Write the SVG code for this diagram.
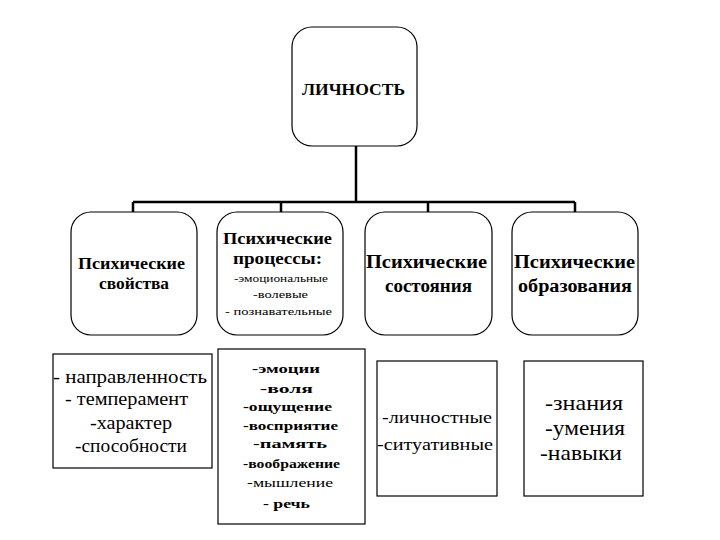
<svg xmlns="http://www.w3.org/2000/svg" width="720" height="540" viewBox="0 0 720 540" font-family="'Liberation Serif', 'DejaVu Serif', serif">
<style>
.rb{fill:#fff;stroke:#000;stroke-width:1.2}
.sb{fill:#fff;stroke:#000;stroke-width:1.2}
.conn{fill:none;stroke:#000;stroke-width:2.5}
text{font-family:'Liberation Serif','DejaVu Serif',serif;fill:#000;text-anchor:middle}
.h{font-weight:bold}
</style>
<rect width="720" height="540" fill="#fff"/>
<g id="connectors">
<path class="conn" d="M356,146 V202 M133,202 H575 M133,202 V212 M281,202 V212 M428,202 V212 M575,202 V212"/>
</g>
<g id="lichnost">
<rect class="rb" x="292" y="27" width="125" height="119" rx="20"/>
<text class="h" x="353.5" y="95" font-size="16" textLength="103" lengthAdjust="spacingAndGlyphs">ЛИЧНОСТЬ</text>
</g>
<g id="svoistva">
<rect class="rb" x="71" y="212" width="126" height="123" rx="20"/>
<text class="h" x="131.5" y="269" font-size="16" textLength="107" lengthAdjust="spacingAndGlyphs">Психические</text>
<text class="h" x="134" y="289" font-size="16" textLength="70" lengthAdjust="spacingAndGlyphs">свойства</text>
</g>
<g id="processy">
<rect class="rb" x="217" y="212" width="126" height="123" rx="20"/>
<text class="h" x="277.5" y="244" font-size="16" textLength="109" lengthAdjust="spacingAndGlyphs">Психические</text>
<text class="h" x="277.5" y="264" font-size="16" textLength="89" lengthAdjust="spacingAndGlyphs">процессы:</text>
<text x="281" y="282" font-size="11" textLength="94" lengthAdjust="spacingAndGlyphs">-эмоциональные</text>
<text x="280.5" y="298" font-size="11" textLength="55" lengthAdjust="spacingAndGlyphs">-волевые</text>
<text x="278.5" y="315" font-size="11" textLength="107" lengthAdjust="spacingAndGlyphs">- познавательные</text>
</g>
<g id="sostoyaniya">
<rect class="rb" x="365" y="212" width="127" height="123" rx="20"/>
<text class="h" x="426.5" y="268" font-size="18.5" textLength="121" lengthAdjust="spacingAndGlyphs">Психические</text>
<text class="h" x="428.5" y="292" font-size="18.5" textLength="87" lengthAdjust="spacingAndGlyphs">состояния</text>
</g>
<g id="obrazovaniya">
<rect class="rb" x="512" y="212" width="126" height="123" rx="20"/>
<text class="h" x="574.5" y="268" font-size="18.5" textLength="121" lengthAdjust="spacingAndGlyphs">Психические</text>
<text class="h" x="575" y="292" font-size="18.5" textLength="114" lengthAdjust="spacingAndGlyphs">образования</text>
</g>
<g id="list-svoistva">
<rect class="sb" x="53" y="354" width="159" height="114"/>
<text x="130" y="383" font-size="18" textLength="154" lengthAdjust="spacingAndGlyphs">- направленность</text>
<text x="126.5" y="405" font-size="18" textLength="123" lengthAdjust="spacingAndGlyphs">- темперамент</text>
<text x="131" y="429" font-size="18" textLength="82" lengthAdjust="spacingAndGlyphs">-характер</text>
<text x="131" y="452" font-size="18" textLength="112" lengthAdjust="spacingAndGlyphs">-способности</text>
</g>
<g id="list-processy">
<rect class="sb" x="218" y="349" width="147" height="175"/>
<text class="h" x="286" y="373" font-size="13" textLength="68" lengthAdjust="spacingAndGlyphs">-эмоции</text>
<text class="h" x="286.5" y="393" font-size="13" textLength="53" lengthAdjust="spacingAndGlyphs">-воля</text>
<text class="h" x="287.5" y="411" font-size="13" textLength="89" lengthAdjust="spacingAndGlyphs">-ощущение</text>
<text class="h" x="290.5" y="430" font-size="13" textLength="95" lengthAdjust="spacingAndGlyphs">-восприятие</text>
<text class="h" x="290" y="448" font-size="13" textLength="74" lengthAdjust="spacingAndGlyphs">-память</text>
<text class="h" x="291.5" y="468" font-size="13" textLength="97" lengthAdjust="spacingAndGlyphs">-воображение</text>
<text x="290" y="487" font-size="13" textLength="86" lengthAdjust="spacingAndGlyphs">-мышление</text>
<text class="h" x="286.5" y="508" font-size="13" textLength="47" lengthAdjust="spacingAndGlyphs">- речь</text>
</g>
<g id="list-sostoyaniya">
<rect class="sb" x="377" y="361" width="120" height="135"/>
<text x="437" y="423" font-size="16.5" textLength="110" lengthAdjust="spacingAndGlyphs">-личностные</text>
<text x="435" y="450" font-size="16.5" textLength="116" lengthAdjust="spacingAndGlyphs">-ситуативные</text>
</g>
<g id="list-obrazovaniya">
<rect class="sb" x="524" y="361" width="119" height="135"/>
<text x="584" y="410" font-size="21" textLength="78" lengthAdjust="spacingAndGlyphs">-знания</text>
<text x="585" y="435" font-size="21" textLength="80" lengthAdjust="spacingAndGlyphs">-умения</text>
<text x="581" y="460" font-size="21" textLength="82" lengthAdjust="spacingAndGlyphs">-навыки</text>
</g>
</svg>
